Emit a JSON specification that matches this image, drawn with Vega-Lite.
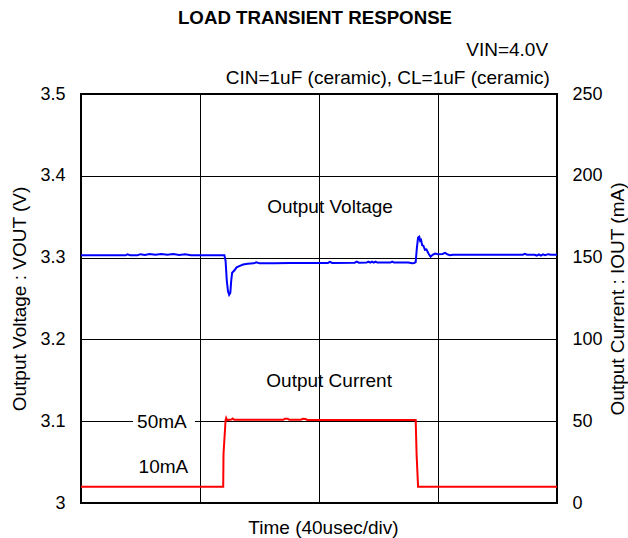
{
  "$schema": "https://vega.github.io/schema/vega-lite/v6.json",
  "width": 476,
  "height": 409,
  "autosize": "none",
  "padding": {"left": 81, "top": 94, "right": 71, "bottom": 35},
  "background": "white",
  "config": {
    "font": "Liberation Sans",
    "view": {"stroke": "black", "strokeWidth": 2},
    "text": {"font": "Liberation Sans", "fontSize": 19, "color": "black"}
  },
  "title": {"text": "LOAD TRANSIENT RESPONSE", "fontSize": 18.7, "fontWeight": "bold", "color": "black", "anchor": "middle", "offset": 13, "dx": -4, "font": "Liberation Sans"},
  "datasets": {
    "vout": [
      {"t": 0, "v": 3.303}, {"t": 8, "v": 3.303}, {"t": 15, "v": 3.3028}, {"t": 15.6, "v": 3.304},
      {"t": 16.5, "v": 3.303}, {"t": 19, "v": 3.303}, {"t": 20, "v": 3.3042}, {"t": 21.5, "v": 3.3032},
      {"t": 23, "v": 3.3043}, {"t": 25, "v": 3.3035}, {"t": 27, "v": 3.3045}, {"t": 29, "v": 3.3035},
      {"t": 31, "v": 3.3044}, {"t": 33, "v": 3.3033}, {"t": 35, "v": 3.3042}, {"t": 37, "v": 3.303},
      {"t": 42, "v": 3.303}, {"t": 48.2, "v": 3.303}, {"t": 48.6, "v": 3.296}, {"t": 49.0, "v": 3.272},
      {"t": 49.4, "v": 3.259}, {"t": 49.8, "v": 3.2545}, {"t": 50.2, "v": 3.257}, {"t": 50.5, "v": 3.272},
      {"t": 50.8, "v": 3.2815}, {"t": 51.6, "v": 3.2845}, {"t": 52.3, "v": 3.288}, {"t": 53.2, "v": 3.2895},
      {"t": 54.5, "v": 3.2915}, {"t": 56, "v": 3.2925}, {"t": 58, "v": 3.293}, {"t": 59, "v": 3.2942},
      {"t": 60, "v": 3.293}, {"t": 65, "v": 3.2932}, {"t": 70, "v": 3.2935}, {"t": 83, "v": 3.2935},
      {"t": 83.7, "v": 3.2948}, {"t": 84.4, "v": 3.2935}, {"t": 92, "v": 3.2938}, {"t": 92.7, "v": 3.295},
      {"t": 93.4, "v": 3.2938}, {"t": 96, "v": 3.294}, {"t": 96.6, "v": 3.2952}, {"t": 97.2, "v": 3.294},
      {"t": 97.8, "v": 3.2952}, {"t": 98.4, "v": 3.294}, {"t": 99, "v": 3.2952}, {"t": 99.6, "v": 3.294},
      {"t": 104, "v": 3.294}, {"t": 104.6, "v": 3.2952}, {"t": 105.2, "v": 3.294}, {"t": 110, "v": 3.294},
      {"t": 111.3, "v": 3.2932}, {"t": 112, "v": 3.2935}, {"t": 112.5, "v": 3.2945}, {"t": 112.9, "v": 3.312},
      {"t": 113.3, "v": 3.3245}, {"t": 113.7, "v": 3.3255}, {"t": 114.0, "v": 3.3205}, {"t": 114.3, "v": 3.3215},
      {"t": 114.7, "v": 3.315}, {"t": 115.1, "v": 3.3145}, {"t": 115.6, "v": 3.3095}, {"t": 116.1, "v": 3.31},
      {"t": 116.8, "v": 3.305}, {"t": 117.5, "v": 3.3012}, {"t": 118.2, "v": 3.3035}, {"t": 119, "v": 3.305},
      {"t": 120, "v": 3.3042}, {"t": 121.5, "v": 3.3045}, {"t": 122.4, "v": 3.3058}, {"t": 123.3, "v": 3.3038},
      {"t": 124, "v": 3.303}, {"t": 125, "v": 3.3035}, {"t": 148.5, "v": 3.3035}, {"t": 149.2, "v": 3.3045},
      {"t": 149.9, "v": 3.3035}, {"t": 152.5, "v": 3.3035}, {"t": 153.2, "v": 3.3025}, {"t": 153.9, "v": 3.304},
      {"t": 154.6, "v": 3.3025}, {"t": 155.3, "v": 3.304}, {"t": 156, "v": 3.303}, {"t": 157, "v": 3.3042},
      {"t": 158, "v": 3.3035}, {"t": 160, "v": 3.3035}
    ],
    "iout": [
      {"t": 0, "i": 10}, {"t": 47.8, "i": 10}, {"t": 47.9, "i": 30}, {"t": 48.6, "i": 50.7},
      {"t": 48.8, "i": 52}, {"t": 49.1, "i": 50.7}, {"t": 50.5, "i": 51}, {"t": 51, "i": 51.6},
      {"t": 51.5, "i": 50.9}, {"t": 68, "i": 50.9}, {"t": 68.5, "i": 51.5}, {"t": 69.5, "i": 51.5},
      {"t": 70, "i": 50.9}, {"t": 74, "i": 50.9}, {"t": 74.5, "i": 51.5}, {"t": 75.5, "i": 51.4},
      {"t": 76, "i": 50.8}, {"t": 90, "i": 50.7}, {"t": 112.5, "i": 50.7}, {"t": 112.8, "i": 30},
      {"t": 113.3, "i": 10}, {"t": 160, "i": 10}
    ],
    "labels_center": [
      {"label": "Output Voltage", "t": 83.7, "v": 3.3551},
      {"label": "Output Current", "t": 83.4, "v": 3.1412},
      {"label": "50mA", "t": 27.2, "v": 3.0914},
      {"label": "10mA", "t": 27.7, "v": 3.0364}
    ],
    "labels_right": [
      {"label": "VIN=4.0V", "t": 157.0, "v": 3.5465},
      {"label": "CIN=1uF (ceramic), CL=1uF (ceramic)", "t": 157.6, "v": 3.5128}
    ],
    "mask": [
      {"t": 17.5, "t2": 38.3, "v": 3.097, "v2": 3.103}
    ]
  },
  "layer": [
    {
      "layer": [
        {
          "data": {"name": "vout"},
          "mark": {"type": "line", "color": "#0000ff", "strokeWidth": 2, "clip": true},
          "encoding": {
            "x": {
              "field": "t", "type": "quantitative",
              "scale": {"domain": [0, 160], "nice": false, "zero": false},
              "axis": {
                "values": [0, 40, 80, 120, 160], "grid": true, "gridColor": "black", "gridOpacity": 1, "gridWidth": 1,
                "labels": false, "ticks": false, "tickSize": 0, "domain": false,
                "title": "Time (40usec/div)", "titleFontSize": 19, "titleFontWeight": "normal", "titleColor": "black",
                "titleFont": "Liberation Sans", "titlePadding": 15, "titleX": 242
              }
            },
            "y": {
              "field": "v", "type": "quantitative",
              "scale": {"domain": [3, 3.5], "nice": false, "zero": false},
              "axis": {
                "values": [3, 3.1, 3.2, 3.3, 3.4, 3.5], "format": "~g", "grid": true, "gridColor": "black", "gridOpacity": 1, "gridWidth": 1,
                "ticks": false, "tickSize": 0, "domain": false, "labelFontSize": 18, "labelColor": "black", "labelFont": "Liberation Sans",
                "labelPadding": 16, "labelFlush": false, "labelOverlap": false,
                "title": "Output Voltage : VOUT (V)", "titleFontSize": 19, "titleFontWeight": "normal", "titleColor": "black",
                "titleFont": "Liberation Sans", "titlePadding": 10
              }
            }
          }
        },
        {
          "data": {"name": "mask"},
          "mark": {"type": "rect", "fill": "white"},
          "encoding": {
            "x": {"field": "t", "type": "quantitative"},
            "x2": {"field": "t2"},
            "y": {"field": "v", "type": "quantitative"},
            "y2": {"field": "v2"}
          }
        },
        {
          "data": {"name": "labels_center"},
          "mark": {"type": "text", "align": "center", "baseline": "alphabetic", "fontSize": 19, "color": "black"},
          "encoding": {
            "x": {"field": "t", "type": "quantitative"},
            "y": {"field": "v", "type": "quantitative"},
            "text": {"field": "label"}
          }
        },
        {
          "data": {"name": "labels_right"},
          "mark": {"type": "text", "align": "right", "baseline": "alphabetic", "fontSize": 19, "color": "black"},
          "encoding": {
            "x": {"field": "t", "type": "quantitative"},
            "y": {"field": "v", "type": "quantitative"},
            "text": {"field": "label"}
          }
        }
      ]
    },
    {
      "data": {"name": "iout"},
      "mark": {"type": "line", "color": "#ff0000", "strokeWidth": 2, "clip": true},
      "encoding": {
        "x": {"field": "t", "type": "quantitative"},
        "y": {
          "field": "i", "type": "quantitative",
          "scale": {"domain": [0, 250], "nice": false},
          "axis": {
            "orient": "right", "values": [0, 50, 100, 150, 200, 250], "grid": false,
            "ticks": false, "tickSize": 0, "domain": false, "labelFontSize": 18, "labelColor": "black", "labelFont": "Liberation Sans",
            "labelPadding": 15, "labelFlush": false, "labelOverlap": false,
            "title": "Output Current : IOUT (mA)", "titleFontSize": 19, "titleFontWeight": "normal", "titleColor": "black",
            "titleFont": "Liberation Sans", "titleAngle": 270, "titleBaseline": "top", "titlePadding": 6
          }
        }
      }
    }
  ],
  "resolve": {"scale": {"y": "independent"}}
}
